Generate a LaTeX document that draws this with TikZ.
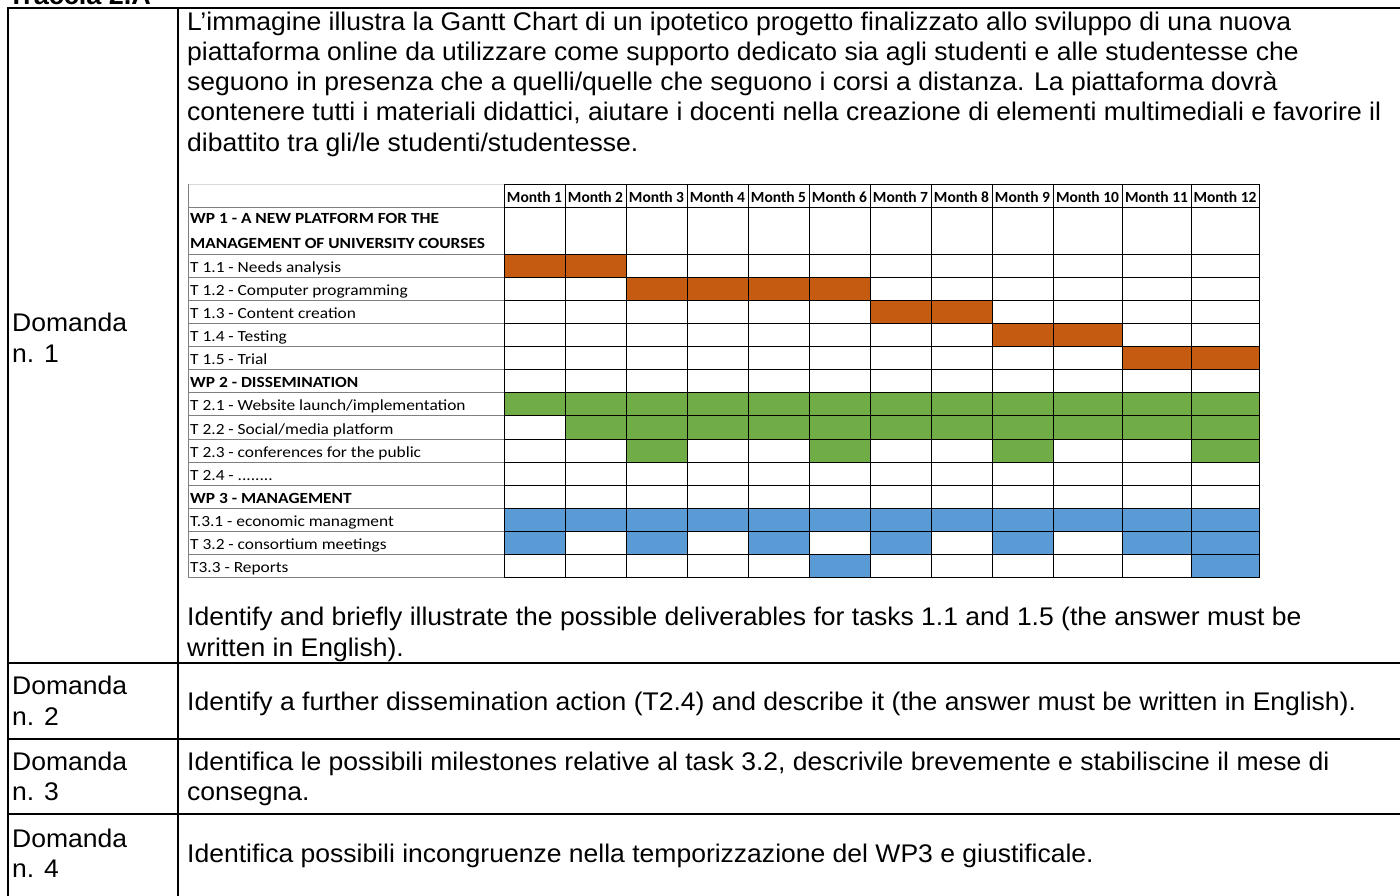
\documentclass[tikz,border=0pt]{standalone}
\usepackage{fontspec}
\setmainfont[FakeStretch=1.04]{Liberation Sans}
\newfontfamily\calibri{Carlito}
\newfontfamily\calibriw[FakeStretch=1.12]{Carlito}
\definecolor{org}{HTML}{C55A11}
\definecolor{grn}{HTML}{70AD47}
\definecolor{blu}{HTML}{5B9BD5}
\definecolor{lgray}{HTML}{7F7F7F}
\definecolor{vlgray}{HTML}{D9D9D9}
\def\CX{{504,565,626,687,748,809,870,931,992,1053,1122,1191,1259}}
\newcommand\mydots{........}
\newcommand\gcell[3]{%
  \pgfmathsetmacro\xa{\CX[#2-1]}\pgfmathsetmacro\xb{\CX[#2]}%
  \pgfmathsetmacro\ya{254+23.14*#1}\pgfmathsetmacro\yb{254+23.14*(#1+1)}%
  \fill[#3] (\xa,\ya) rectangle (\xb,\yb);}
\begin{document}
\begin{tikzpicture}[x=1pt,y=-1pt,
  tline/.style={line width=2pt,black},
  txt/.style={anchor=base west,inner sep=0pt,font=\fontsize{25.5}{30}\selectfont},
  glab/.style={anchor=base west,inner sep=0pt,font=\calibriw\fontsize{15.5}{18}\selectfont},
  gbold/.style={anchor=base west,inner sep=0pt,font=\calibriw\bfseries\fontsize{15.5}{18}\selectfont},
  gmon/.style={anchor=base,inner sep=0pt,font=\calibri\bfseries\fontsize{15.5}{18}\selectfont},
  ggrid/.style={line width=1pt,black},
  lgrid/.style={line width=1pt,lgray}]
\useasboundingbox (0,0) rectangle (1400,895);
\fill[white] (0,0) rectangle (1400,895);
% cut-off title
\node[anchor=base west,inner sep=0pt,font=\bfseries\fontsize{26}{30}\selectfont] (title) at (8,4) {Traccia 2.A};
% ---- Gantt fills
\foreach \m in {1,2} {\gcell{0}{\m}{org}}
\foreach \m in {3,...,6} {\gcell{1}{\m}{org}}
\foreach \m in {7,8} {\gcell{2}{\m}{org}}
\foreach \m in {9,10} {\gcell{3}{\m}{org}}
\foreach \m in {11,12} {\gcell{4}{\m}{org}}
\foreach \m in {1,...,12} {\gcell{6}{\m}{grn}}
\foreach \m in {2,...,12} {\gcell{7}{\m}{grn}}
\foreach \m in {3,6,9,12} {\gcell{8}{\m}{grn}}
\foreach \m in {1,...,12} {\gcell{11}{\m}{blu}}
\foreach \m in {1,3,5,7,9,11,12} {\gcell{12}{\m}{blu}}
\foreach \m in {6,12} {\gcell{13}{\m}{blu}}
% ---- Gantt grid
\draw[line width=1pt,vlgray] (188,184) -- (504,184);
\draw[lgrid] (188,184) -- (188,578);
\draw[lgrid] (188,207) -- (504,207);
\foreach \i in {0,...,14} {\draw[lgrid] (188,254+23.14*\i) -- (504,254+23.14*\i);}
\draw[ggrid] (504,184) -- (1259,184);
\draw[ggrid] (504,207) -- (1259,207);
\foreach \i in {0,...,14} {\draw[ggrid] (504,254+23.14*\i) -- (1259,254+23.14*\i);}
\foreach \x in {504,565,626,687,748,809,870,931,992,1053,1122,1191,1259} {\draw[ggrid] (\x,184) -- (\x,578);}
% ---- Gantt texts
\foreach \m [count=\k] in {Month 1,Month 2,Month 3,Month 4,Month 5,Month 6,Month 7,Month 8,Month 9,Month 10,Month 11,Month 12} {
  \pgfmathsetmacro\xa{\CX[\k-1]}
  \pgfmathsetmacro\xb{\CX[\k]}
  \pgfmathsetmacro\xm{(\xa+\xb)/2}
  \node[gmon] (mon\k) at (\xm,202) {\m};}
\node[gbold] (wp1a) at (190,223) {WP 1 - A NEW PLATFORM FOR THE};
\node[gbold] (wp1b) at (190,248) {MANAGEMENT OF UNIVERSITY COURSES};
\foreach \t [count=\k from 0] in {T 1.1 - Needs analysis,T 1.2 - Computer programming,T 1.3 - Content creation,T 1.4 - Testing,T 1.5 - Trial,WP 2 - DISSEMINATION,T 2.1 - Website launch/implementation,T 2.2 - Social/media platform,T 2.3 - conferences for the public,T 2.4 - \mydots,WP 3 - MANAGEMENT,T.3.1 - economic managment,T 3.2 - consortium meetings,T3.3 - Reports} {
  \pgfmathsetmacro\yb{254+23.14*(\k+1)-5}
  \ifnum\k=5 \node[gbold] (lab\k) at (190,\yb) {\t};
  \else\ifnum\k=10 \node[gbold] (lab\k) at (190,\yb) {\t};
  \else \node[glab] (lab\k) at (190,\yb) {\t};\fi\fi}
% ---- outer table
\draw[tline] (8,8) -- (1402,8);
\draw[tline] (8,663) -- (1402,663);
\draw[tline] (8,739) -- (1402,739);
\draw[tline] (8,814) -- (1402,814);
\draw[tline] (8,7) -- (8,897);
\draw[tline] (178,7) -- (178,897);
% ---- left column
\node[txt] (d1a) at (12,331) {Domanda};
\node[txt] (d1b) at (12,362) {n. 1};
\node[txt] (d2a) at (12,694) {Domanda};
\node[txt] (d2b) at (12,725) {n. 2};
\node[txt] (d3a) at (12,770) {Domanda};
\node[txt] (d3b) at (12,800) {n. 3};
\node[txt] (d4a) at (12,847) {Domanda};
\node[txt] (d4b) at (12,877) {n. 4};
% ---- right column texts
\node[txt] (p1) at (187,30) {L’immagine illustra la Gantt Chart di un ipotetico progetto finalizzato allo sviluppo di una nuova};
\node[txt] (p2) at (187,60.3) {piattaforma online da utilizzare come supporto dedicato sia agli studenti e alle studentesse che};
\node[txt] (p3) at (187,90.6) {seguono in presenza che a quelli/quelle che seguono i corsi a distanza. La piattaforma dovrà};
\node[txt] (p4) at (187,120.9) {contenere tutti i materiali didattici, aiutare i docenti nella creazione di elementi multimediali e favorire il};
\node[txt] (p5) at (187,151.2) {dibattito tra gli/le studenti/studentesse.};
\node[txt] (q1a) at (187,625) {Identify and briefly illustrate the possible deliverables for tasks 1.1 and 1.5 (the answer must be};
\node[txt] (q1b) at (187,656) {written in English).};
\node[txt] (q2) at (187,710) {Identify a further dissemination action (T2.4) and describe it (the answer must be written in English).};
\node[txt] (q3a) at (187,770) {Identifica le possibili milestones relative al task 3.2, descrivile brevemente e stabiliscine il mese di};
\node[txt] (q3b) at (187,800) {consegna.};
\node[txt] (q4) at (187,862) {Identifica possibili incongruenze nella temporizzazione del WP3 e giustificale.};
\end{tikzpicture}
\end{document}
